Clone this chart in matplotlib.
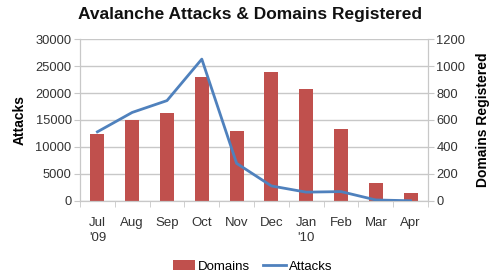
import matplotlib
matplotlib.use("Agg")
import matplotlib.pyplot as plt
import numpy as np

plt.rcParams['font.family'] = ['Liberation Sans', 'DejaVu Sans']

months = ["Jul\n'09", "Aug", "Sep", "Oct", "Nov", "Dec", "Jan\n'10", "Feb", "Mar", "Apr"]
domains = [495, 600, 652, 922, 518, 955, 833, 531, 129, 55]
attacks = [12800, 16400, 18600, 26300, 6950, 2750, 1600, 1700, 150, 0]

fig = plt.figure(figsize=(5, 2.8), dpi=100)
ax = fig.add_axes([0.16, 0.283, 0.696, 0.577])
ax2 = ax.twinx()

x = np.arange(len(months))
grid_c = '#c8c8c8'
ax2.bar(x, domains, width=0.4, color='#C0504D', label='Domains', zorder=2)
ax.plot(x, attacks, color='#4F81BD', lw=2, label='Attacks', zorder=3)

ax.set_zorder(ax2.get_zorder() + 1)
ax.patch.set_visible(False)

ax.set_xlim(-0.5, len(months) - 0.5)
ax.set_ylim(0, 30000)
ax2.set_ylim(0, 1200)
ax.set_yticks(np.arange(0, 30001, 5000))
ax2.set_yticks(np.arange(0, 1201, 200))
ax2.yaxis.grid(True, color=grid_c, lw=1, zorder=0)
ax2.set_axisbelow(True)

ax.set_xticks(x)
ax.set_xticklabels(months, fontsize=9.5, color='#333333', linespacing=1.25, va='top')
ax.set_xticks(np.arange(-0.5, len(months)), minor=True)
ax.tick_params(axis='x', which='major', length=0, pad=12)
ax.tick_params(axis='x', which='minor', length=4, color=grid_c, direction='out')
ax.tick_params(axis='y', length=4, color=grid_c, labelsize=9.3, labelcolor='#333333', pad=2)
ax2.tick_params(axis='y', length=4, color=grid_c, labelsize=9.3, labelcolor='#333333', pad=2)

for a in (ax, ax2):
    for s in a.spines.values():
        s.set_color(grid_c)
    a.spines['top'].set_visible(False)

ax.set_ylabel('Attacks', fontsize=10, fontweight='bold', labelpad=6)
ax2.set_ylabel('Domains Registered', fontsize=10, fontweight='bold', labelpad=8, rotation=90)
ax2.yaxis.set_label_position('right')

fig.suptitle('Avalanche Attacks & Domains Registered', fontsize=12.5, fontweight='bold',
             x=0.5, y=0.975, color='#111111')

h1, l1 = ax2.get_legend_handles_labels()
h2, l2 = ax.get_legend_handles_labels()
fig.legend(h1 + h2, l1 + l2, loc='center', bbox_to_anchor=(0.505, 0.048), ncol=2,
           frameon=False, fontsize=9.5, handlelength=1.7, handletextpad=0.2, columnspacing=1.0)

fig.savefig('out.png', dpi=100, facecolor='white')
